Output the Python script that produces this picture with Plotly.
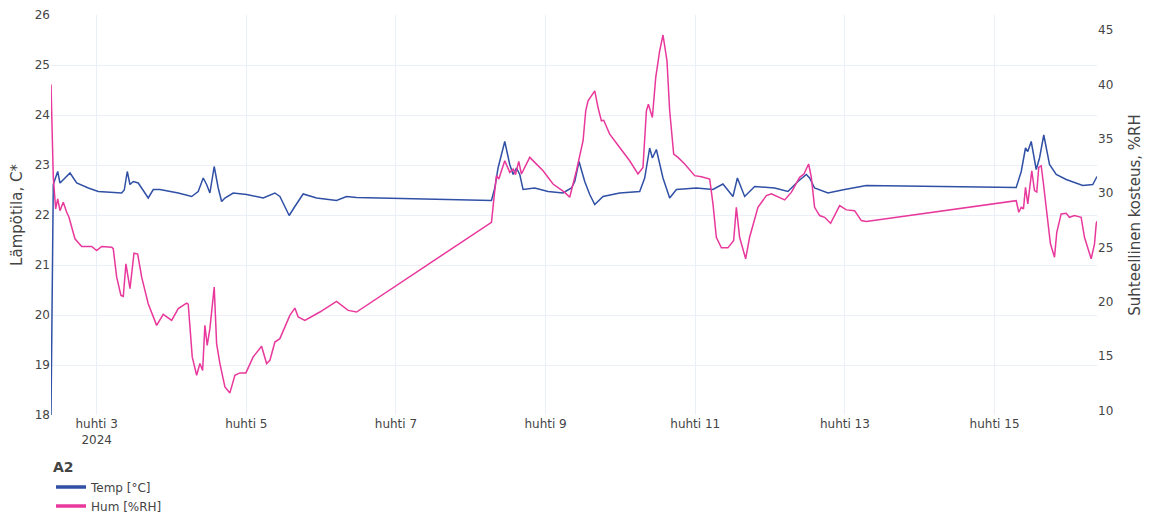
import plotly.graph_objects as go

# Sensor A2 – temperature readings
temp_time = [
    "2024-04-02 09:21", "2024-04-02 10:05", "2024-04-02 11:30", "2024-04-02 12:14",
    "2024-04-02 15:27", "2024-04-02 17:35", "2024-04-02 21:19", "2024-04-03 00:31",
    "2024-04-03 08:01", "2024-04-03 08:51", "2024-04-03 09:49", "2024-04-03 10:41",
    "2024-04-03 11:44", "2024-04-03 13:20", "2024-04-03 15:29", "2024-04-03 16:32",
    "2024-04-03 18:09", "2024-04-03 20:17", "2024-04-04 02:10", "2024-04-04 06:28",
    "2024-04-04 08:34", "2024-04-04 10:11", "2024-04-04 11:16", "2024-04-04 12:19",
    "2024-04-04 13:42", "2024-04-04 14:59", "2024-04-04 16:05", "2024-04-04 17:08",
    "2024-04-04 19:47", "2024-04-05 00:05", "2024-04-05 05:25", "2024-04-05 09:10",
    "2024-04-05 10:46", "2024-04-05 13:45", "2024-04-05 15:34", "2024-04-05 18:14",
    "2024-04-05 22:32", "2024-04-06 04:56", "2024-04-06 08:09", "2024-04-06 11:22",
    "2024-04-08 06:38", "2024-04-08 07:42", "2024-04-08 08:45", "2024-04-08 10:54",
    "2024-04-08 12:30", "2024-04-08 13:34", "2024-04-08 14:39", "2024-04-08 15:43",
    "2024-04-08 16:46", "2024-04-08 20:31", "2024-04-09 00:47", "2024-04-09 05:35",
    "2024-04-09 08:17", "2024-04-09 09:21", "2024-04-09 10:43", "2024-04-09 12:33",
    "2024-04-09 14:09", "2024-04-09 15:46", "2024-04-09 18:25", "2024-04-09 23:46",
    "2024-04-10 06:11", "2024-04-10 07:47", "2024-04-10 09:23", "2024-04-10 10:15",
    "2024-04-10 11:32", "2024-04-10 13:39", "2024-04-10 15:48", "2024-04-10 17:57",
    "2024-04-11 00:22", "2024-04-11 05:41", "2024-04-11 08:53", "2024-04-11 12:06",
    "2024-04-11 13:31", "2024-04-11 15:51", "2024-04-11 19:04", "2024-04-12 01:28",
    "2024-04-12 05:44", "2024-04-12 08:56", "2024-04-12 11:38", "2024-04-12 12:41",
    "2024-04-12 14:17", "2024-04-12 18:34", "2024-04-12 23:55", "2024-04-13 06:52",
    "2024-04-15 06:57", "2024-04-15 08:34", "2024-04-15 09:56", "2024-04-15 10:40",
    "2024-04-15 11:46", "2024-04-15 13:22", "2024-04-15 14:26", "2024-04-15 15:48",
    "2024-04-15 17:38", "2024-04-15 19:47", "2024-04-15 22:59", "2024-04-16 04:18",
    "2024-04-16 07:31", "2024-04-16 08:52",
]
temp_vals = [
    18.00, 22.61, 22.87, 22.64, 22.84, 22.64, 22.54, 22.47,
    22.44, 22.50, 22.87, 22.61, 22.67, 22.64, 22.44, 22.34,
    22.51, 22.51, 22.44, 22.37, 22.47, 22.74, 22.61, 22.44,
    22.97, 22.54, 22.27, 22.34, 22.44, 22.41, 22.34, 22.44,
    22.37, 21.99, 22.17, 22.42, 22.34, 22.29, 22.37, 22.35,
    22.29, 22.54, 22.94, 23.47, 23.01, 22.81, 22.94, 22.81,
    22.51, 22.54, 22.47, 22.44, 22.54, 22.67, 23.07, 22.67,
    22.41, 22.21, 22.37, 22.44, 22.47, 22.74, 23.34, 23.14,
    23.31, 22.74, 22.34, 22.51, 22.54, 22.51, 22.62, 22.37,
    22.74, 22.37, 22.57, 22.54, 22.47, 22.67, 22.81, 22.74,
    22.54, 22.44, 22.51, 22.59, 22.55, 22.87, 23.34, 23.27,
    23.47, 22.91, 23.14, 23.60, 23.01, 22.81, 22.71, 22.59,
    22.61, 22.77,
]

# Sensor A2 – relative humidity readings
hum_time = [
    "2024-04-02 09:21", "2024-04-02 10:05", "2024-04-02 10:51", "2024-04-02 11:30",
    "2024-04-02 12:14", "2024-04-02 13:17", "2024-04-02 14:23", "2024-04-02 15:07",
    "2024-04-02 17:02", "2024-04-02 19:11", "2024-04-02 22:24", "2024-04-03 00:00",
    "2024-04-03 01:36", "2024-04-03 04:49", "2024-04-03 05:19", "2024-04-03 06:25",
    "2024-04-03 07:47", "2024-04-03 08:32", "2024-04-03 09:23", "2024-04-03 10:41",
    "2024-04-03 11:58", "2024-04-03 13:09", "2024-04-03 14:26", "2024-04-03 16:32",
    "2024-04-03 19:14", "2024-04-03 21:21", "2024-04-04 00:03", "2024-04-04 02:10",
    "2024-04-04 04:51", "2024-04-04 05:22", "2024-04-04 06:39", "2024-04-04 08:04",
    "2024-04-04 09:07", "2024-04-04 09:59", "2024-04-04 10:43", "2024-04-04 11:27",
    "2024-04-04 12:19", "2024-04-04 13:42", "2024-04-04 14:28", "2024-04-04 15:32",
    "2024-04-04 17:08", "2024-04-04 18:44", "2024-04-04 20:20", "2024-04-04 21:56",
    "2024-04-04 23:52", "2024-04-05 02:12", "2024-04-05 04:54", "2024-04-05 06:30",
    "2024-04-05 07:34", "2024-04-05 09:10", "2024-04-05 10:46", "2024-04-05 13:58",
    "2024-04-05 15:34", "2024-04-05 16:38", "2024-04-05 18:47", "2024-04-05 23:35",
    "2024-04-06 04:56", "2024-04-06 08:40", "2024-04-06 11:22",
    "2024-04-08 06:38", "2024-04-08 07:28", "2024-04-08 08:14", "2024-04-08 08:59",
    "2024-04-08 10:54", "2024-04-08 12:30", "2024-04-08 13:34", "2024-04-08 14:20",
    "2024-04-08 15:23", "2024-04-08 16:15", "2024-04-08 18:55", "2024-04-08 20:31",
    "2024-04-08 23:11", "2024-04-09 02:23", "2024-04-09 06:08", "2024-04-09 07:44",
    "2024-04-09 09:53", "2024-04-09 12:01", "2024-04-09 12:52", "2024-04-09 13:37",
    "2024-04-09 15:46", "2024-04-09 16:49", "2024-04-09 17:54", "2024-04-09 18:38",
    "2024-04-09 20:34", "2024-04-09 23:46", "2024-04-10 02:58", "2024-04-10 05:38",
    "2024-04-10 07:14", "2024-04-10 08:20", "2024-04-10 08:58", "2024-04-10 10:15",
    "2024-04-10 11:19", "2024-04-10 12:35", "2024-04-10 13:39", "2024-04-10 14:56",
    "2024-04-10 15:48", "2024-04-10 17:05", "2024-04-10 18:28", "2024-04-10 20:37",
    "2024-04-10 23:49", "2024-04-11 01:58", "2024-04-11 04:38", "2024-04-11 05:41",
    "2024-04-11 06:46", "2024-04-11 08:23", "2024-04-11 10:29", "2024-04-11 12:19",
    "2024-04-11 13:11", "2024-04-11 14:14", "2024-04-11 16:10", "2024-04-11 17:26",
    "2024-04-11 20:07", "2024-04-11 22:48", "2024-04-12 00:25", "2024-04-12 04:40",
    "2024-04-12 06:49", "2024-04-12 09:29", "2024-04-12 10:52", "2024-04-12 12:22",
    "2024-04-12 13:14", "2024-04-12 14:17", "2024-04-12 15:54", "2024-04-12 17:30",
    "2024-04-12 19:25", "2024-04-12 22:19", "2024-04-13 00:28", "2024-04-13 03:07",
    "2024-04-13 05:16", "2024-04-13 06:52",
    "2024-04-15 06:57", "2024-04-15 07:47", "2024-04-15 08:34", "2024-04-15 09:17",
    "2024-04-15 09:56", "2024-04-15 10:40", "2024-04-15 11:57", "2024-04-15 12:49",
    "2024-04-15 13:33", "2024-04-15 14:11", "2024-04-15 14:58", "2024-04-15 15:42",
    "2024-04-15 17:05", "2024-04-15 17:56", "2024-04-15 19:14", "2024-04-15 19:58",
    "2024-04-15 21:22", "2024-04-15 22:59", "2024-04-16 00:02", "2024-04-16 01:38",
    "2024-04-16 03:47", "2024-04-16 04:51", "2024-04-16 07:00", "2024-04-16 08:04",
    "2024-04-16 08:37", "2024-04-16 08:52",
]
hum_vals = [
    40.00, 31.45, 28.55, 29.47, 28.39, 29.16, 28.24, 27.78,
    25.80, 25.09, 25.09, 24.72, 25.09, 25.03, 24.90, 22.27,
    20.60, 20.50, 23.50, 21.21, 24.48, 24.40, 22.27, 19.83,
    17.84, 18.85, 18.30, 19.38, 19.89, 19.80, 14.94, 13.26,
    14.33, 13.70, 17.84, 16.00, 17.54, 21.36, 16.17, 14.33,
    12.18, 11.63, 13.26, 13.47, 13.47, 14.94, 15.92, 14.33,
    14.63, 16.31, 16.62, 18.76, 19.43, 18.61, 18.30, 19.07,
    20.05, 19.22, 19.07,
    27.32, 29.62, 31.61, 31.30, 32.98, 31.91, 32.22, 31.70,
    32.92, 31.76, 33.29, 32.83, 32.06, 30.84, 30.07, 29.62,
    32.06, 34.82, 37.57, 38.49, 39.40, 37.87, 36.65, 36.70,
    35.43, 34.20, 32.98, 31.76, 32.37, 37.57, 38.18, 36.95,
    40.62, 43.07, 44.54, 42.16, 37.57, 33.60, 33.29, 32.68,
    31.61, 31.50, 31.30, 29.01, 25.94, 24.97, 24.97, 25.64,
    28.70, 25.94, 23.96, 25.94, 28.70, 29.77, 29.93, 29.38,
    30.07, 31.45, 31.76, 32.68, 31.45, 28.70, 27.94, 27.78,
    27.23, 28.85, 28.46, 28.39, 27.48, 27.39,
    29.31, 28.24, 28.70, 28.55, 30.53, 29.01, 32.06, 30.23,
    30.10, 32.37, 32.52, 30.84, 27.17, 25.34, 24.11, 26.40,
    28.09, 28.15, 27.78, 27.94, 27.78, 25.94, 23.96, 25.34,
    27.17, 27.41,
]

# Date ticks (Finnish month name)
tick_dates = ["2024-04-03", "2024-04-05", "2024-04-07", "2024-04-09",
              "2024-04-11", "2024-04-13", "2024-04-15"]
tick_labels = ["huhti 3<br>2024", "huhti 5", "huhti 7", "huhti 9",
               "huhti 11", "huhti 13", "huhti 15"]

BLUE = "#3050a6"
PINK = "#e8389c"
FONT = "DejaVu Sans, Verdana, sans-serif"

fig = go.Figure()
fig.add_trace(go.Scatter(
    x=temp_time, y=temp_vals, name="Temp [°C]", mode="lines",
    line=dict(color=BLUE, width=1.5), yaxis="y", showlegend=False,
))
fig.add_trace(go.Scatter(
    x=hum_time, y=hum_vals, name="Hum [%RH]", mode="lines",
    line=dict(color=PINK, width=1.5), yaxis="y2", showlegend=False,
))
# Legend entries drawn with a heavier swatch
fig.add_trace(go.Scatter(
    x=[None], y=[None], name="Temp [°C]", mode="lines",
    line=dict(color=BLUE, width=3.5), yaxis="y",
))
fig.add_trace(go.Scatter(
    x=[None], y=[None], name="Hum [%RH]", mode="lines",
    line=dict(color=PINK, width=3.5), yaxis="y2",
))

fig.update_layout(
    template="plotly_white",
    width=1153, height=518,
    margin=dict(l=51, r=56, t=15, b=103, autoexpand=False),
    font=dict(family=FONT, size=12, color="#444"),
    xaxis=dict(
        tickvals=tick_dates, ticktext=tick_labels, automargin=False,
        showgrid=True, zeroline=False, showline=False,
    ),
    yaxis=dict(
        title=dict(text="Lämpötila, C*", font=dict(size=15), standoff=8),
        range=[18, 26], dtick=1, zeroline=False, showline=False, automargin=False,
    ),
    yaxis2=dict(
        title=dict(text="Suhteellinen kosteus, %RH", font=dict(size=15), standoff=17),
        overlaying="y", side="right", range=[9.6, 46.38], dtick=5,
        showgrid=False, zeroline=False, showline=False, automargin=False,
    ),
    legend=dict(
        title=dict(text="<b>A2</b>"),
        orientation="v", xref="paper", x=0, xanchor="left",
        yref="container", y=0.123, yanchor="top",
        font=dict(size=12),
    ),
    showlegend=True,
)

fig.write_html("out.html")
